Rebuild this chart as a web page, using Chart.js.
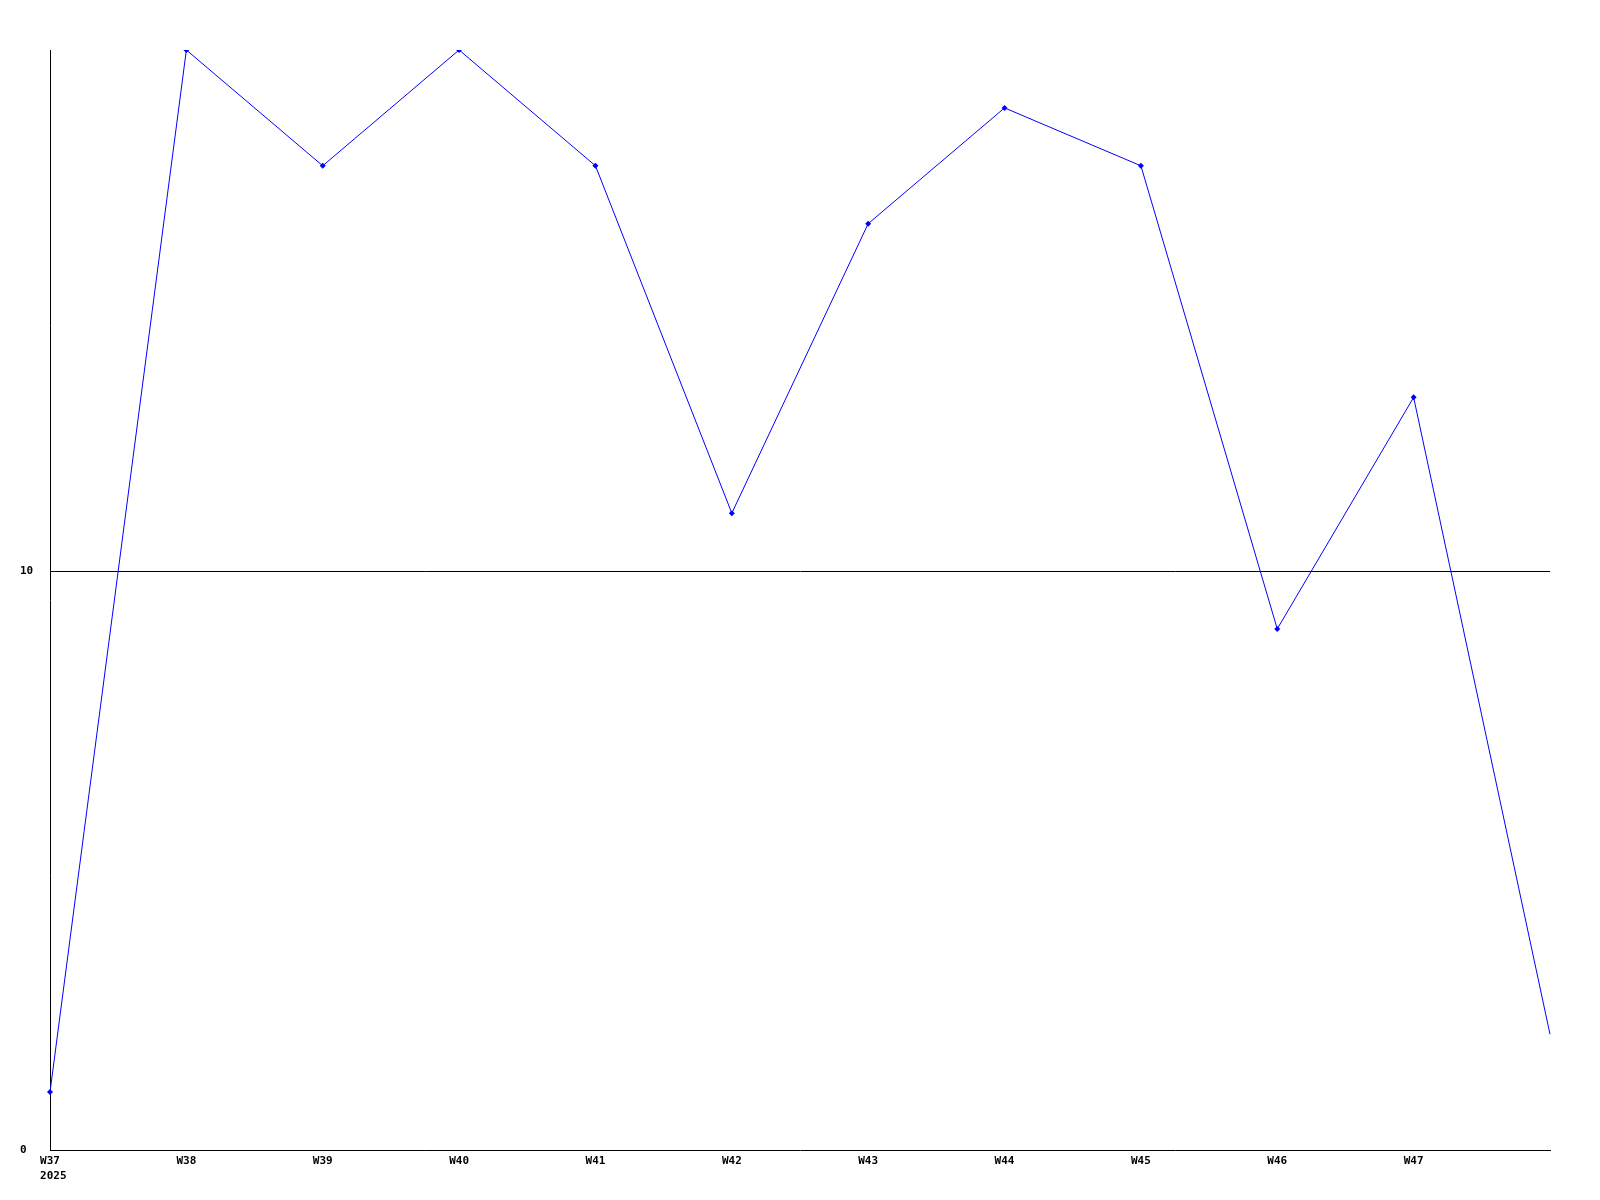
<!DOCTYPE html>
<html>
<head>
<meta charset="utf-8">
<script src="https://cdn.jsdelivr.net/npm/chart.js@4/dist/chart.umd.min.js"></script>
<style>
  body { margin: 0; background: #fff; }
  #wrap { width: 1600px; height: 1200px; }
</style>
</head>
<body>
<div id="wrap"><canvas id="graphe"></canvas></div>
<script>
// valeurs hebdomadaires
const semaines = [['W37', '\u00a02025'], 'W38', 'W39', 'W40', 'W41', 'W42', 'W43', 'W44', 'W45', 'W46', 'W47', ''];
const valeurs = [1, 19, 17, 19, 17, 11, 16, 18, 17, 9, 13, 2];
const ticksY = [0, 10];

var police = { family: '"DejaVu Sans Mono", monospace', size: 11, weight: 'bold', lineHeight: 1.35 };

var ctx = document.getElementById('graphe').getContext('2d');
var monGraphe = new Chart(ctx, {
  type: 'line',
  data: {
    labels: semaines,
    datasets: [{
      data: valeurs,
      borderColor: '#0000ff',
      backgroundColor: '#0000ff',
      borderWidth: 1,
      pointStyle: 'rectRot',
      // pas de marqueur sur le dernier point (coupé au bord)
      pointRadius: function(c) { return c.dataIndex === valeurs.length - 1 ? 0 : 3; },
      pointBorderWidth: 0,
      tension: 0
    }]
  },
  options: {
    responsive: true,
    maintainAspectRatio: false,
    animation: false,
    layout: { padding: { top: 50, right: 50, left: 20, bottom: 0 } },
    plugins: { legend: { display: false }, tooltip: { enabled: false } },
    scales: {
      x: {
        offset: false,
        grid: { display: false, drawTicks: false },
        border: { display: true, color: '#000', width: 1 },
        ticks: {
          autoSkip: false,
          maxRotation: 0,
          padding: 4,
          color: '#000',
          font: police
        },
        afterFit: function(scale) { scale.height = 50; }
      },
      y: {
        min: 0,
        max: 19,
        afterBuildTicks: function(scale) {
          scale.ticks = ticksY.map(function(v) { return { value: v }; });
        },
        grid: {
          drawTicks: false,
          color: function(c) { return c.tick && c.tick.value === 10 ? '#000' : 'rgba(0,0,0,0)'; },
          lineWidth: 1
        },
        border: { display: true, color: '#000', width: 1 },
        ticks: {
          crossAlign: 'far',
          padding: 10,
          color: '#000',
          font: police
        },
        afterFit: function(scale) { scale.width = 30; }
      }
    }
  }
});
</script>
</body>
</html>
